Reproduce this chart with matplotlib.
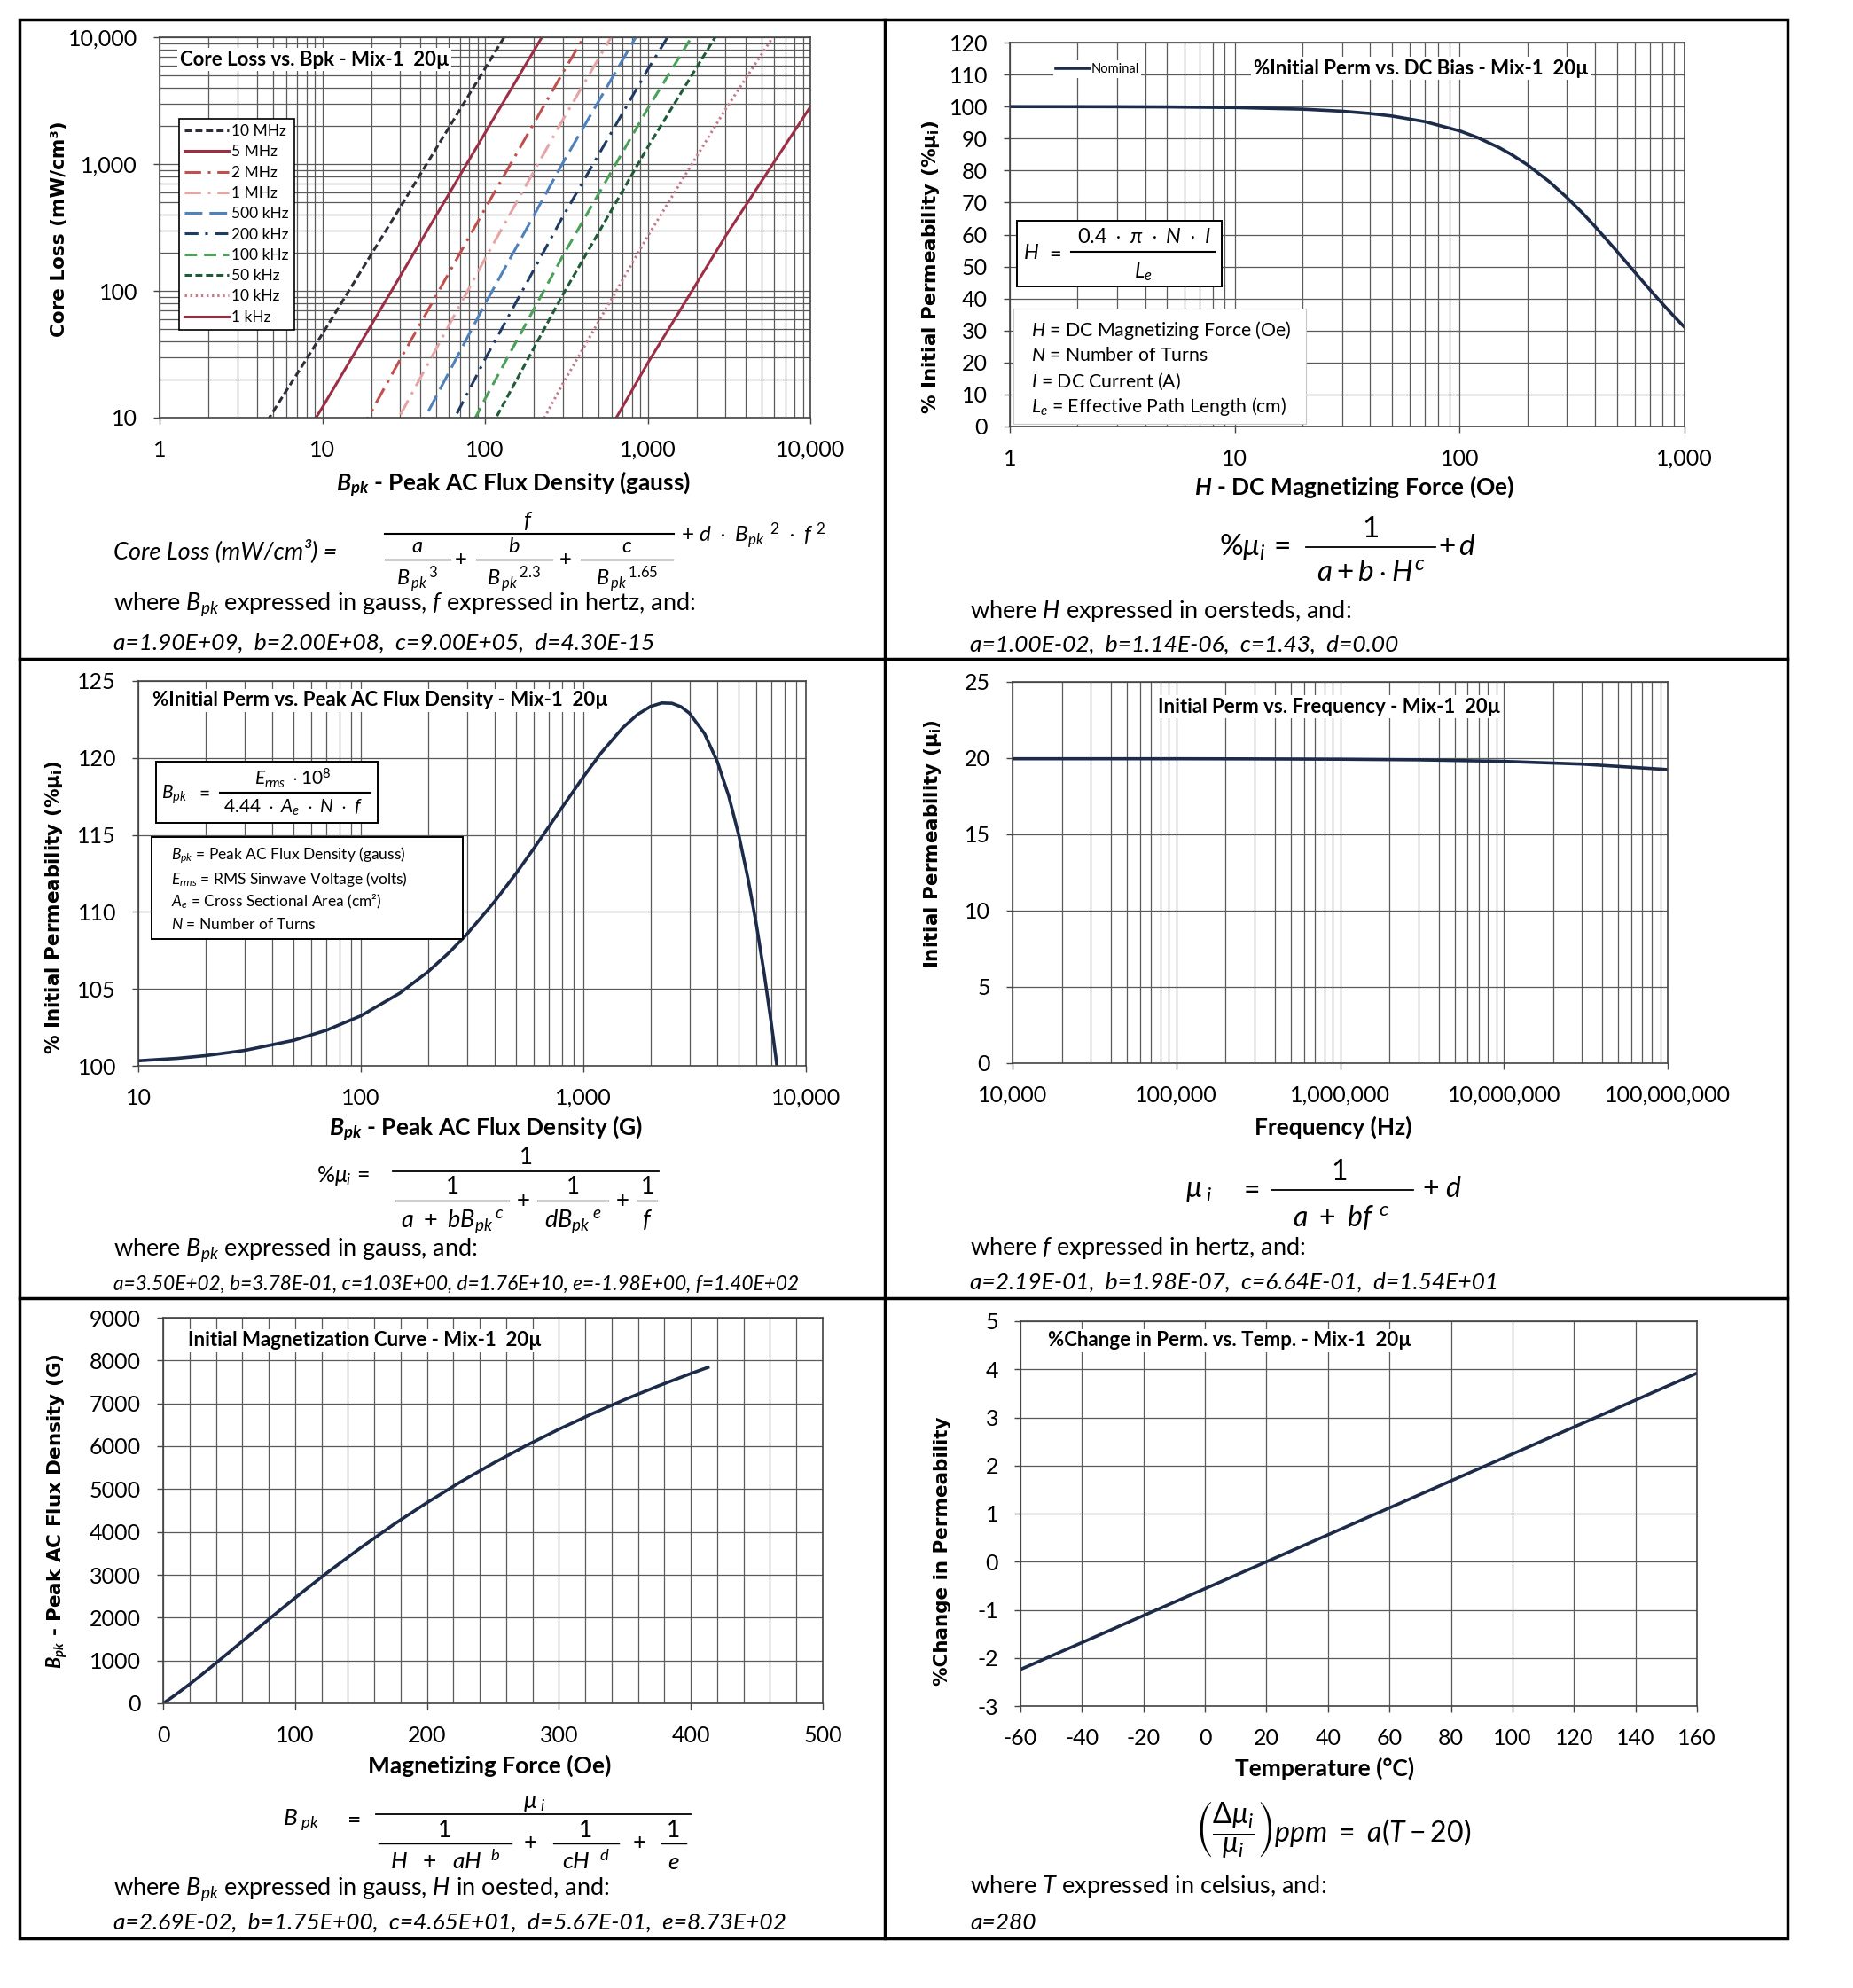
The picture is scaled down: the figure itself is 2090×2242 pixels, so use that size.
import numpy as np
import matplotlib.pyplot as plt
from matplotlib.ticker import FuncFormatter, LogLocator, MultipleLocator, NullFormatter
from matplotlib.patches import Rectangle
from matplotlib.lines import Line2D

plt.rcParams['font.family'] = ['Lato', 'DejaVu Sans']
plt.rcParams['axes.unicode_minus'] = False
plt.rcParams['mathtext.fontset'] = 'custom'
plt.rcParams['mathtext.rm'] = 'Lato'
plt.rcParams['mathtext.it'] = 'Lato:style=italic'
plt.rcParams['mathtext.bf'] = 'Lato:weight=bold'
plt.rcParams['mathtext.bfit'] = 'Lato:style=italic:weight=bold'
plt.rcParams['mathtext.sf'] = 'Lato'
plt.rcParams['mathtext.fallback'] = 'stixsans'

# ---- values ----
# core loss (mW/cm3) vs Bpk (gauss)
core_bpk = [1, 3, 10, 30, 100, 300, 1000, 3000, 10000]
loss_10mhz = [0.435, 3.99, 45.6, 452, 5656, 57000, 698817, 6.55e6, 7.1e7]
loss_5mhz = [0.11, 1.025, 12.0, 129.3, 1753, 18841, 241909, 2.31e6, 2.49e7]
loss_2mhz = [0.018, 0.178, 2.23, 28.5, 443, 5214, 70963, 690993, 7.37e6]
loss_1mhz = [0.0048, 0.0503, 0.685, 10.38, 178.6, 2220, 31182, 306797, 3.25e6]
loss_500khz = [0.0013, 0.0155, 0.235, 4.22, 78.5, 1013, 14516, 143723, 1.52e6]
loss_200khz = [2.67e-4, 0.00386, 0.0682, 1.456, 28.8, 382, 5548, 55167, 5.82e5]
loss_100khz = [9.1e-5, 0.00154, 0.0298, 0.690, 14.0, 187.2, 2731, 27197, 2.87e5]
loss_50khz = [3.5e-5, 0.000675, 0.0138, 0.335, 6.89, 92.6, 1355, 13502, 142318]
loss_10khz = [4.8e-6, 1.16e-4, 0.0026, 0.0651, 1.36, 18.37, 269.2, 2685, 28292]
loss_1khz = [4.8e-7, 1.16e-5, 2.55e-4, 0.00651, 0.1356, 1.833, 26.88, 268.1, 2825]
freq_labels = ['10 MHz', '5 MHz', '2 MHz', '1 MHz', '500 kHz', '200 kHz',
               '100 kHz', '50 kHz', '10 kHz', '1 kHz']

# % initial perm vs DC bias
dc_h = [1, 2, 3, 5, 10, 20, 30, 40, 50, 70, 100, 120, 150, 170, 200, 250,
        300, 350, 400, 500, 600, 700, 800, 900, 1000]
dc_perm = [99.99, 99.97, 99.95, 99.89, 99.69, 99.18, 98.55, 97.82, 97.03,
           95.28, 92.4, 90.32, 87.15, 85.01, 81.8, 76.56, 71.56, 66.87, 62.51,
           54.79, 48.29, 42.83, 38.24, 34.35, 31.03]

# % initial perm vs peak AC flux density
ac_bpk = [10, 15, 20, 30, 50, 70, 100, 150, 200, 250, 300, 400, 500, 600,
          700, 800, 1000, 1200, 1500, 1750, 2000, 2250, 2500, 2750, 3000,
          3500, 4000, 4500, 5000, 5500, 6000, 6500, 7000, 7200, 7300, 7500]
ac_perm = [100.33, 100.49, 100.66, 101.00, 101.66, 102.31, 103.25, 104.73,
           106.10, 107.38, 108.56, 110.69, 112.53, 114.14, 115.54, 116.76,
           118.77, 120.32, 121.95, 122.82, 123.34, 123.57, 123.55, 123.32,
           122.90, 121.59, 119.76, 117.52, 114.95, 112.12, 109.11, 105.95,
           102.69, 101.37, 100.72, 99.37]

# initial perm vs frequency
freq_hz = [1e4, 1e5, 3e5, 1e6, 3e6, 1e7, 3e7, 1e8]
freq_perm = [19.96, 19.96, 19.95, 19.93, 19.89, 19.79, 19.61, 19.25]

# initial magnetization curve
mag_h = [0, 5, 10, 20, 30, 40, 50, 60, 75, 90, 100, 110, 125, 150, 175, 200,
         225, 250, 275, 300, 325, 350, 375, 400, 413]
mag_b = [0, 104, 213, 445, 688, 939, 1193, 1449, 1832, 2211, 2460, 2705, 3065,
         3638, 4179, 4684, 5159, 5600, 6012, 6396, 6755, 7090, 7402, 7696, 7840]

# % change in perm vs temperature
temp_c = [-60, 20, 160]
temp_change = [-2.24, 0.0, 3.92]

W, H = 2090, 2242
GRID = '#5a5a5a'
CURVE = '#1d2b4a'
fig = plt.figure(figsize=(W / 100, H / 100), dpi=100)
comma = FuncFormatter(lambda v, p: f"{v:,.0f}")


def place_axes(l, t, r, b):
    return fig.add_axes([l / W, 1 - b / H, (r - l) / W, (b - t) / H])


def ftext(x, y, s, **kw):
    return fig.text(x / W, 1 - y / H, s, **kw)


def mtext(x, y, s, fs, ha='center', **kw):
    # formula piece, y is the baseline in pixels
    return ftext(x, y, s, fontsize=fs, ha=ha, va='baseline', zorder=5, **kw)


def hline(x0, x1, y, lw=1.3):
    fig.add_artist(Line2D([x0 / W, x1 / W], [1 - y / H, 1 - y / H],
                          transform=fig.transFigure, color='black', lw=lw, zorder=5))


def plus(x, y, fs):
    ftext(x, y, '+', fontsize=fs, ha='center', va='center', zorder=5)


def fbox(l, t, r, b, ec='black', lw=1.4):
    fig.add_artist(Rectangle((l / W, 1 - b / H), (r - l) / W, (b - t) / H,
                             transform=fig.transFigure, fc='white', ec=ec,
                             lw=lw, zorder=4))


def base_style(ax):
    ax.set_axisbelow(True)
    for sp in ax.spines.values():
        sp.set_color('#444444')
        sp.set_linewidth(1.2)
    ax.tick_params(which='major', direction='out', length=5, width=1.0,
                   color='#444444', labelsize=18)
    ax.tick_params(axis='x', pad=13)
    ax.tick_params(axis='y', pad=13)
    ax.tick_params(which='minor', length=0)


def log_axis(axis):
    axis.set_major_locator(LogLocator(base=10, numticks=12))
    axis.set_minor_locator(LogLocator(base=10, subs=np.arange(2, 10), numticks=12))
    axis.set_minor_formatter(NullFormatter())
    axis.set_major_formatter(comma)


def title(x, y, s):
    ftext(x, y, s, fontsize=16, fontweight='bold', ha='left', va='center',
          bbox=dict(facecolor='white', edgecolor='none', pad=2), zorder=5)


def ylab(x, y, s):
    ftext(x, y, s, rotation=90, ha='center', va='center', fontsize=15.5,
          fontweight='bold', family='DejaVu Sans')


def xlab(x, y, s):
    ftext(x, y, s, ha='center', va='center', fontsize=19, fontweight='bold')


def body(x, y, s, fs=19.5, italic=False):
    ftext(x, y, s, fontsize=fs, ha='left', va='center',
          style='italic' if italic else 'normal')


# ---------- panel 1: core loss ----------
ax1 = place_axes(180, 42, 914, 471)
base_style(ax1)
ax1.set_xscale('log')
ax1.set_yscale('log')
log_axis(ax1.xaxis)
log_axis(ax1.yaxis)
ax1.set_xlim(1, 10000)
ax1.set_ylim(10, 10000)
ax1.grid(which='both', color=GRID, lw=0.9)
core_series = [loss_10mhz, loss_5mhz, loss_2mhz, loss_1mhz, loss_500khz,
               loss_200khz, loss_100khz, loss_50khz, loss_10khz, loss_1khz]
core_colors = ['#2e2e38', '#9c2f45', '#c0504d', '#e6a5a5', '#4f81bd',
               '#1f3b63', '#4aa15a', '#1e5b36', '#c77b8a', '#9c2f45']
core_dashes = [(0, (2.6, 1.3)), '-', (0, (6, 2.5, 1, 2.5)), (0, (6, 2.5, 1, 2.5)),
               (0, (6.5, 2.6)), (0, (5, 2.5, 1, 2.5)), (0, (4.5, 2.6)),
               (0, (2.6, 1.3)), (0, (0.8, 1.2)), '-']
for vals, lab, col, ls in zip(core_series, freq_labels, core_colors, core_dashes):
    ax1.plot(core_bpk, vals, color=col, ls=ls, lw=2.2, label=lab)
leg1 = ax1.legend(loc='upper left', bbox_to_anchor=(202 / W, 1 - 134 / H),
                  bbox_transform=fig.transFigure, fontsize=12.5, fancybox=False,
                  edgecolor='black', framealpha=1, borderpad=0.35,
                  labelspacing=0.42, handlelength=2.9, handletextpad=0.15,
                  borderaxespad=0)
leg1.get_frame().set_linewidth(1.2)
title(203, 67, 'Core Loss vs. Bpk - Mix-1  20µ')
ylab(67, 258, 'Core Loss (mW/cm³)')
xlab(579, 546, r'$\mathbfit{B}_{\mathbfit{pk}}$ - Peak AC Flux Density (gauss)')
mtext(128, 630, 'Core Loss (mW/cm³) =', 19.5, ha='left', style='italic')
mtext(596, 595, r'$f$', 18)
hline(434, 760, 602, lw=1.5)
for xc, half, num, den in zip([471, 580, 707], [37, 43, 52],
                              [r'$a$', r'$b$', r'$c$'],
                              [r'$B_{\,pk}\,{}^{3}$', r'$B_{\,pk}\,{}^{2.3}$',
                               r'$B_{\,pk}\,{}^{1.65}$']):
    mtext(xc, 623, num, 17)
    hline(xc - half, xc + half, 631, lw=1.0)
    mtext(xc, 660, den, 17)
plus(520, 631, 17)
plus(638, 631, 17)
mtext(768, 611, r'$+\ d\ \cdot\ B_{pk}\,{}^{\ 2}\ \cdot\ f^{\ 2}$', 17.5, ha='left')
body(128, 682, r'where $B_{pk}$ expressed in gauss, $f$ expressed in hertz, and:')
body(128, 725, 'a=1.90E+09,  b=2.00E+08,  c=9.00E+05,  d=4.30E-15', fs=19, italic=True)

# ---------- panel 2: DC bias ----------
ax2 = place_axes(1139, 48, 1900, 481)
base_style(ax2)
ax2.set_xscale('log')
log_axis(ax2.xaxis)
ax2.set_xlim(1, 1000)
ax2.set_ylim(0, 120)
ax2.yaxis.set_major_locator(MultipleLocator(10))
ax2.grid(which='major', color=GRID, lw=0.9)
ax2.grid(which='minor', axis='x', color=GRID, lw=0.9)
ax2.plot(dc_h, dc_perm, color=CURVE, lw=2.6, label='Nominal')
leg2 = ax2.legend(loc='upper left', bbox_to_anchor=(1188 / W, 1 - 68 / H),
                  bbox_transform=fig.transFigure, fontsize=10.5, fancybox=False,
                  edgecolor='none', framealpha=1, handlelength=2.6,
                  handletextpad=0.1, borderpad=0.2, borderaxespad=0)
title(1414, 77, '%Initial Perm vs. DC Bias - Mix-1  20µ')
ylab(1050, 301, '% Initial Permeability (%µ$_{\\mathregular{i}}$)')
xlab(1528, 549, r'$\mathbfit{H}$ - DC Magnetizing Force (Oe)')
fbox(1147, 249, 1378, 323)
mtext(1163, 292, r'$H$', 17)
mtext(1189, 292, r'$=$', 17)
mtext(1290, 274, r'$0.4\ \cdot\ \pi\ \cdot\ N\ \cdot\ I$', 17)
hline(1208, 1370, 284, lw=1.5)
mtext(1289, 313, r'$L_e$', 17)
fbox(1143, 348, 1473, 478, ec='#c8c8c8', lw=0.8)
for yy, s in zip([372, 401, 430, 458],
                 [r'$H$ = DC Magnetizing Force (Oe)', r'$N$ = Number of Turns',
                  r'$I$ = DC Current (A)', r'$L_e$ = Effective Path Length (cm)']):
    ftext(1163, yy, s, fontsize=15.3, ha='left', va='center', zorder=5)
mtext(1375, 626, r'$\%\mu_i\,=$', 24, ha='left')
mtext(1546, 606, '1', 24)
hline(1473, 1619, 617, lw=1.3)
mtext(1546, 655, r'$a+b\cdot H^{c}$', 24)
mtext(1622, 626, r'$+\,d$', 24, ha='left')
body(1094, 689, r'where $H$ expressed in oersteds, and:')
body(1094, 727, 'a=1.00E-02,  b=1.14E-06,  c=1.43,  d=0.00', fs=19, italic=True)

# ---------- panel 3: AC flux density ----------
ax3 = place_axes(156, 768, 909, 1202)
base_style(ax3)
ax3.set_xscale('log')
log_axis(ax3.xaxis)
ax3.set_xlim(10, 10000)
ax3.set_ylim(100, 125)
ax3.yaxis.set_major_locator(MultipleLocator(5))
ax3.grid(which='major', color=GRID, lw=0.9)
ax3.grid(which='minor', axis='x', color=GRID, lw=0.9)
ax3.plot(ac_bpk, ac_perm, color=CURVE, lw=2.6)
title(172, 790, '%Initial Perm vs. Peak AC Flux Density - Mix-1  20µ')
ylab(61, 1023, '% Initial Permeability (%µ$_{\\mathregular{i}}$)')
xlab(548, 1273, r'$\mathbfit{B}_{\mathbfit{pk}}$ - Peak AC Flux Density (G)')
fbox(176, 859, 426, 928)
mtext(197, 901, r'$B_{pk}$', 15)
mtext(229, 901, r'$=$', 15)
mtext(330, 885, r'$E_{rms}\ \cdot 10^{8}$', 15)
hline(248, 418, 894, lw=1.5)
mtext(330, 917, r'$4.44\ \cdot\ A_e\ \cdot\ N\ \cdot\ f$', 15)
fbox(171, 944, 522, 1059)
for yy, s in zip([965, 991, 1017, 1042],
                 [r'$B_{pk}$ = Peak AC Flux Density (gauss)',
                  r'$E_{rms}$ = RMS Sinwave Voltage (volts)',
                  r'$A_e$ = Cross Sectional Area (cm²)',
                  r'$N$ = Number of Turns']):
    ftext(193, yy, s, fontsize=12.5, ha='left', va='center', zorder=5)
mtext(357, 1333, r'$\%\mu_i\,=$', 18, ha='left')
mtext(593, 1313, r'$1$', 18.5)
hline(443, 743, 1321, lw=1.3)
for xc, half, den in zip([510, 646, 730], [64, 40, 11],
                         [r'$a\ +\ bB_{pk}\,{}^{c}$', r'$dB_{pk}\,{}^{e}$', r'$f$']):
    mtext(xc, 1346, r'$1$', 18.5)
    hline(xc - half, xc + half, 1354, lw=1.0)
    mtext(xc, 1384, den, 19.5)
plus(590, 1354, 18.5)
plus(702, 1354, 18.5)
body(128, 1410, r'where $B_{pk}$ expressed in gauss, and:')
body(128, 1448, 'a=3.50E+02, b=3.78E-01, c=1.03E+00, d=1.76E+10, e=-1.98E+00, f=1.40E+02',
     fs=16.3, italic=True)

# ---------- panel 4: frequency ----------
ax4 = place_axes(1142, 769, 1881, 1199)
base_style(ax4)
ax4.set_xscale('log')
log_axis(ax4.xaxis)
ax4.set_xlim(1e4, 1e8)
ax4.set_ylim(0, 25)
ax4.yaxis.set_major_locator(MultipleLocator(5))
ax4.grid(which='major', color=GRID, lw=0.9)
ax4.grid(which='minor', axis='x', color=GRID, lw=0.9)
ax4.plot(freq_hz, freq_perm, color=CURVE, lw=2.6)
title(1306, 797, 'Initial Perm vs. Frequency - Mix-1  20µ')
ylab(1052, 952, 'Initial Permeability (µ$_{\\mathregular{i}}$)')
xlab(1504, 1271, 'Frequency (Hz)')
mtext(1337, 1350, r'$\mu_{\ i}$', 23, ha='left')
mtext(1409, 1350, r'$=$', 23)
mtext(1511, 1331, '1', 23)
hline(1434, 1594, 1342, lw=1.3)
mtext(1512, 1383, r'$a\ +\ bf^{\ c}$', 23)
mtext(1604, 1350, r'$+\ d$', 23, ha='left')
body(1094, 1408, r'where $f$ expressed in hertz, and:')
body(1094, 1446, 'a=2.19E-01,  b=1.98E-07,  c=6.64E-01,  d=1.54E+01', fs=19, italic=True)

# ---------- panel 5: magnetization ----------
ax5 = place_axes(184, 1486, 928, 1921)
base_style(ax5)
ax5.set_xlim(0, 500)
ax5.set_ylim(0, 9000)
ax5.xaxis.set_major_locator(MultipleLocator(100))
ax5.xaxis.set_minor_locator(MultipleLocator(20))
ax5.yaxis.set_major_locator(MultipleLocator(1000))
ax5.grid(which='major', color=GRID, lw=0.9)
ax5.grid(which='minor', axis='x', color=GRID, lw=0.9)
ax5.plot(mag_h, mag_b, color=CURVE, lw=2.6)
title(212, 1512, 'Initial Magnetization Curve - Mix-1  20µ')
ylab(64, 1704, r'$\mathbfit{B}_{\mathbfit{pk}}$ - Peak AC Flux Density (G)')
xlab(552, 1991, 'Magnetizing Force (Oe)')
mtext(319, 2059, r'$B_{\ pk}$', 19, ha='left')
mtext(397, 2059, r'$=$', 19)
mtext(603, 2039, r'$\mu_{\ i}$', 19)
hline(424, 779, 2046, lw=1.3)
for xc, half, den in zip([502, 661, 760], [75, 37, 14],
                         [r'$H\ \ +\ \ aH^{\ \ b}$', r'$cH^{\ \ d}$', r'$e$']):
    mtext(xc, 2072, '1', 19)
    hline(xc - half, xc + half, 2079, lw=1.0)
    mtext(xc, 2108, den, 19)
plus(598, 2079, 19)
plus(721, 2079, 19)
body(128, 2131, r'where $B_{pk}$ expressed in gauss, $H$ in oested, and:')
body(128, 2168, 'a=2.69E-02,  b=1.75E+00,  c=4.65E+01,  d=5.67E-01,  e=8.73E+02',
     fs=19, italic=True)

# ---------- panel 6: temperature ----------
ax6 = place_axes(1151, 1490, 1914, 1924)
base_style(ax6)
ax6.set_xlim(-60, 160)
ax6.set_ylim(-3, 5)
ax6.xaxis.set_major_locator(MultipleLocator(20))
ax6.yaxis.set_major_locator(MultipleLocator(1))
ax6.grid(which='major', color=GRID, lw=0.9)
ax6.plot(temp_c, temp_change, color=CURVE, lw=2.6)
title(1182, 1512, '%Change in Perm. vs. Temp. - Mix-1  20µ')
ylab(1063, 1749, '%Change in Permeability')
xlab(1494, 1994, 'Temperature (°C)')
ftext(1504, 2063, r'$\left(\dfrac{\Delta\mu_i}{\mu_i}\right)ppm\ =\ a(T - 20)$',
      fontsize=23, ha='center', va='center')
body(1094, 2128, r'where $T$ expressed in celsius, and:')
body(1094, 2168, 'a=280', fs=19, italic=True)

# ---------- panel frames ----------
fig.add_artist(Rectangle((22 / W, 1 - 2186 / H), (2016 - 22) / W, (2186 - 22) / H,
                         transform=fig.transFigure, fill=False, ec='black', lw=2.5,
                         zorder=6))
fig.add_artist(Line2D([998 / W, 998 / W], [1 - 22 / H, 1 - 2186 / H],
                      transform=fig.transFigure, color='black', lw=2.5, zorder=6))
for yy in [743, 1464]:
    fig.add_artist(Line2D([22 / W, 2016 / W], [1 - yy / H, 1 - yy / H],
                          transform=fig.transFigure, color='black', lw=2.5, zorder=6))

fig.savefig('out.png', dpi=100, facecolor='white')
